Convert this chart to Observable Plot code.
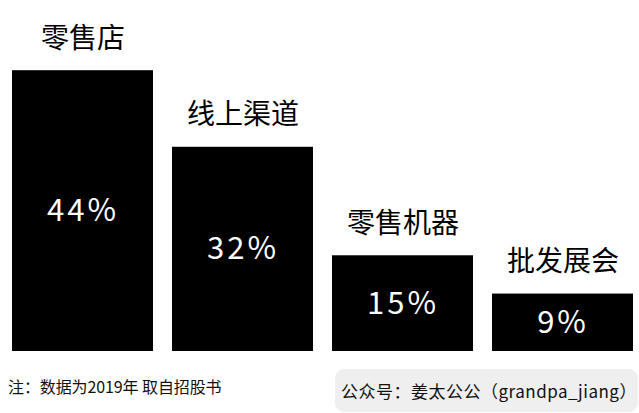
<!DOCTYPE html>
<html>
<head>
<meta charset="utf-8">
<script src="https://cdn.jsdelivr.net/npm/d3@7"></script>
<script src="https://cdn.jsdelivr.net/npm/@observablehq/plot@0.6"></script>
<style>
  html, body { margin: 0; padding: 0; background: #fff; }
  #wrap { width: 639px; font-family: "Noto Sans CJK SC", "Noto Sans", sans-serif; }
  g[fill="white"] text { letter-spacing: 3px; }
  #footer { position: relative; width: 639px; height: 53px; }
  #note { position: absolute; left: 8px; top: 15px; font-size: 16px; color: #111; line-height: 22px; white-space: nowrap; letter-spacing: -0.1px; }
  #badge { position: absolute; left: 335px; top: 9px; width: 303px; height: 43px; border-radius: 9px; background: #efefef; }
  #badge span { position: absolute; left: 6px; top: 10px; font-size: 17px; line-height: 24px; color: #111; white-space: nowrap; letter-spacing: 0.5px; }
</style>
</head>
<body>
<div id="wrap">
  <div id="chart"></div>
  <div id="footer">
    <div id="note">注：数据为2019年 取自招股书</div>
    <div id="badge"><span>公众号：姜太公公（grandpa_jiang）</span></div>
  </div>
</div>
<script>
const categories = ["零售店", "线上渠道", "零售机器", "批发展会"];
const shares = [44, 32, 15, 9];
const shareLabels = ["44%", "32%", "15%", "9%"];

const data = categories.map((c, i) => ({category: c, share: shares[i], label: shareLabels[i]}));

const chart = Plot.plot({
  width: 639,
  height: 360,
  marginLeft: 11,
  marginRight: 4,
  marginTop: 0,
  marginBottom: 9,
  style: {fontFamily: "'Noto Sans CJK SC', 'Noto Sans', sans-serif", background: "white"},
  x: {domain: categories, paddingInner: 0.116, paddingOuter: 0, axis: null},
  y: {domain: [0, 55], axis: null},
  marks: [
    Plot.barY(data, {x: "category", y: "share", fill: "black"}),
    Plot.text(data, {x: "category", y: d => d.share / 2, text: "label", fill: "white", fontSize: 31}),
    Plot.text(data, {x: "category", y: "share", text: "category", dy: -32, fontSize: 28, fill: "black"})
  ]
});
document.getElementById("chart").appendChild(chart);
</script>
</body>
</html>
